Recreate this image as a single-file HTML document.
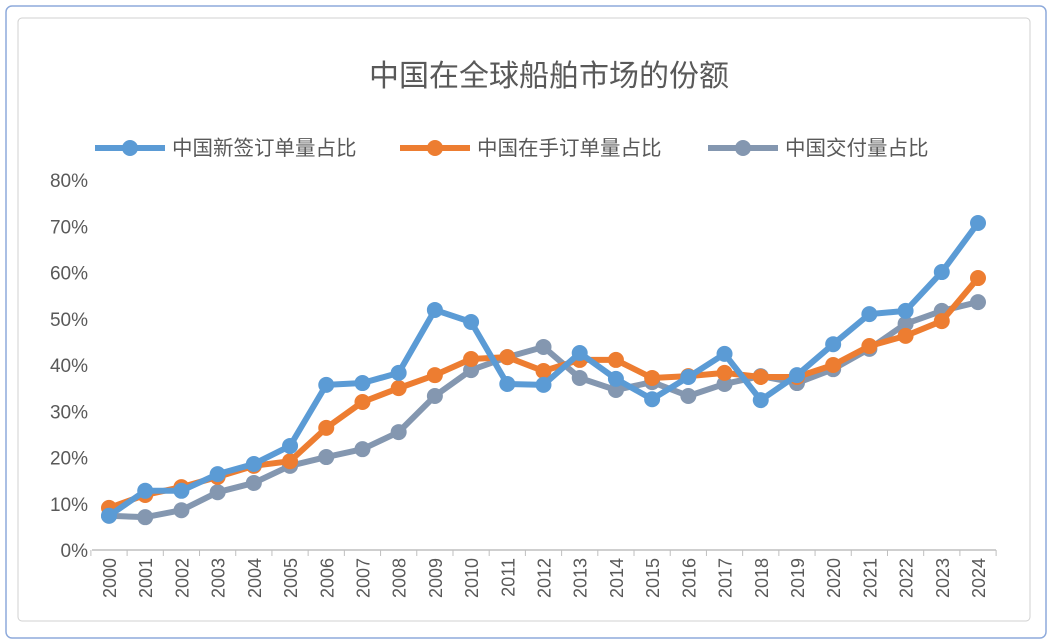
<!DOCTYPE html>
<html><head><meta charset="utf-8"><style>
body{margin:0;background:#fff;}
svg{display:block;font-family:"Liberation Sans","Noto Sans CJK SC",sans-serif;}
</style></head><body>
<svg id="c" width="1052" height="644">
<rect x="6" y="6" width="1040" height="632" rx="6" fill="#fff" stroke="#8eaadb" stroke-width="1.5"/>
<rect x="18" y="18" width="1012" height="603" rx="4" fill="#fff" stroke="#d0d0d0"/>
<text x="549" y="86" text-anchor="middle" font-size="30" fill="#595959">中国在全球船舶市场的份额</text>
<g id="legend"></g>
<g id="axes"></g>
<g id="series"></g>
</svg>
<script>
const years=["2000","2001","2002","2003","2004","2005","2006","2007","2008","2009","2010","2011","2012","2013","2014","2015","2016","2017","2018","2019","2020","2021","2022","2023","2024"];
const newOrders=[7.4,12.8,12.8,16.4,18.6,22.5,35.7,36.1,38.3,51.9,49.3,35.9,35.7,42.6,37,32.6,37.4,42.4,32.4,37.8,44.5,51,51.7,60.1,70.7];
const orderBook=[9.1,11.9,13.6,15.8,18.2,19.2,26.4,32,35,37.8,41.3,41.7,38.7,41.1,41.1,37.2,37.6,38.3,37.4,37.4,40,44.1,46.3,49.5,58.8];
const deliveries=[7.4,7.1,8.6,12.5,14.5,18.2,20.1,21.8,25.5,33.3,38.9,41.7,43.9,37.2,34.6,36.3,33.3,35.9,37.6,36.1,39.1,43.5,48.9,51.7,53.6];
const yTicks=[0,10,20,30,40,50,60,70,80];
const seriesNames=["中国新签订单量占比","中国在手订单量占比","中国交付量占比"];
const NS="http://www.w3.org/2000/svg";
function mk(t,a,p){const e=document.createElementNS(NS,t);for(const k in a)e.setAttribute(k,a[k]);p.appendChild(e);return e;}
const x0=109,x1=978,y0=550,y1=180;
const X=i=>x0+(x1-x0)*i/(years.length-1);
const Y=v=>y0-(y0-y1)*v/80;
const axes=document.getElementById('axes');
yTicks.forEach(v=>{const t=mk('text',{x:88,y:Y(v)+7,'text-anchor':'end','font-size':19,fill:'#595959'},axes);t.textContent=v+'%';

});
const ax=mk('line',{x1:92,x2:996,y1:y0,y2:y0,stroke:'#bfbfbf','stroke-width':1.5},axes);


const step=(x1-x0)/(years.length-1);
for(let i=0;i<=years.length;i++){mk('line',{x1:x0-step/2+i*step,x2:x0-step/2+i*step,y1:y0,y2:y0+6,stroke:'#bfbfbf'},axes);}
years.forEach((yr,i)=>{const t=mk('text',{transform:`translate(${X(i)+7},${y0+8}) rotate(-90)`,'text-anchor':'end','font-size':18,fill:'#595959'},axes);t.textContent=yr;

});
const colors=["#5b9bd5","#ed7d31","#8497b0"];
const data=[newOrders,orderBook,deliveries];
const sg=document.getElementById('series');
[2,1,0].forEach(s=>{const g=mk('g',{},sg);


mk('polyline',{points:data[s].map((v,i)=>X(i)+','+Y(v)).join(' '),fill:'none',stroke:colors[s],'stroke-width':6,'stroke-linejoin':'round'},g);
data[s].forEach((v,i)=>{const c=mk('circle',{cx:X(i),cy:Y(v),r:8,fill:colors[s]},g);

});});
const lg=document.getElementById('legend');
const lx=[95,400,708];
seriesNames.forEach((n,s)=>{const g=mk('g',{},lg);


mk('line',{x1:lx[s],x2:lx[s]+70,y1:148,y2:148,stroke:colors[s],'stroke-width':6},g);
mk('circle',{cx:lx[s]+35,cy:148,r:8,fill:colors[s]},g);
const t=mk('text',{x:lx[s]+77,y:155,'font-size':20.5,fill:'#595959'},g);t.textContent=n;});
</script>
</body></html>
